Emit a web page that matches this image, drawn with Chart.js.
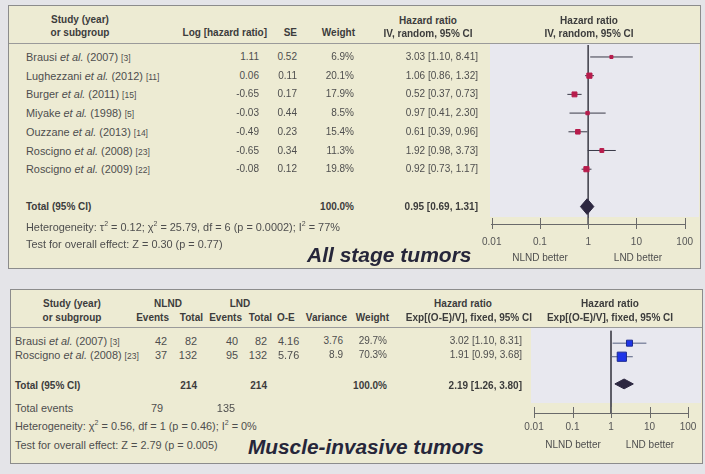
<!DOCTYPE html>
<html><head><meta charset="utf-8">
<script src="https://cdn.jsdelivr.net/npm/chart.js@4.4.1/dist/chart.umd.min.js"></script>
<style>
html,body{margin:0;padding:0;}
body{width:705px;height:474px;background:#e4e4e8;position:relative;overflow:hidden;font-family:"Liberation Sans",Arial,sans-serif;}
.box{position:absolute;background:#edebd3;border:1.5px solid #8c8c8c;box-sizing:border-box;}
.plotbg{position:absolute;background:#e8e8ef;}
.hline{position:absolute;height:0;border-top:1.5px solid #9a9a9a;}
.t{position:absolute;white-space:nowrap;font-size:10px;line-height:14px;color:#4e4e4e;}
.w{font-size:10.9px;}
.b{font-weight:bold;color:#3c3c3c;}
.t small{font-size:8.5px;}
.big{position:absolute;white-space:nowrap;font-weight:bold;font-style:italic;color:#26263a;line-height:26px;}
canvas{position:absolute;}
</style></head>
<body>
<div class="box" style="left:8px;top:5px;width:693px;height:264px;"></div>
<div class="plotbg" style="left:490px;top:44px;width:209px;height:173px;"></div>
<div class="hline" style="left:9px;top:43px;width:691px;"></div>
<div class="box" style="left:10px;top:289px;width:693px;height:175px;"></div>
<div class="plotbg" style="left:531px;top:328px;width:170px;height:75px;"></div>
<div class="hline" style="left:11px;top:327px;width:691px;"></div>
<canvas id="cA" width="235" height="214" style="left:470px;top:40px;"></canvas>
<canvas id="cB" width="191" height="120" style="left:514px;top:323px;"></canvas>
<script>
// ---------- Data: all stage tumors ----------
const studiesA = ['Brausi', 'Lughezzani', 'Burger', 'Miyake', 'Ouzzane', 'Roscigno', 'Roscigno'];
const yearsA = [2007, 2012, 2011, 1998, 2013, 2008, 2009];
const refsA = [3, 11, 15, 5, 14, 23, 22];
const logHrA = [1.11, 0.06, -0.65, -0.03, -0.49, -0.65, -0.08];
const seA = [0.52, 0.11, 0.17, 0.44, 0.23, 0.34, 0.12];
const weightA = [6.9, 20.1, 17.9, 8.5, 15.4, 11.3, 19.8];
const hrA = [3.03, 1.06, 0.52, 0.97, 0.61, 1.92, 0.92];
const loA = [1.10, 0.86, 0.37, 0.41, 0.39, 0.98, 0.73];
const hiA = [8.41, 1.32, 0.73, 2.30, 0.96, 3.73, 1.17];
const totalA = [0.95, 0.69, 1.31];          // estimate, low, high
const totalWeightA = 100.0;
const heteroA = 'Heterogeneity: τ<sup style="font-size:7px;line-height:0">2</sup> = 0.12; χ<sup style="font-size:7px;line-height:0">2</sup> = 25.79, df = 6 (p = 0.0002); I<sup style="font-size:7px;line-height:0">2</sup> = 77%';
const testA = 'Test for overall effect: Z = 0.30 (p = 0.77)';

// ---------- Data: muscle-invasive tumors ----------
const studiesB = ['Brausi', 'Roscigno'];
const yearsB = [2007, 2008];
const refsB = [3, 23];
const nlndEvents = [42, 37];
const nlndTotal = [82, 132];
const lndEvents = [40, 95];
const lndTotal = [82, 132];
const oeB = [4.16, 5.76];
const varianceB = [3.76, 8.9];
const weightB = [29.7, 70.3];
const hrB = [3.02, 1.91];
const loB = [1.10, 0.99];
const hiB = [8.31, 3.68];
const totalB = [2.19, 1.26, 3.80];
const totalsB = [214, 214];
const totalEventsB = [79, 135];
const totalWeightB = 100.0;
const heteroB = 'Heterogeneity: χ<sup style="font-size:7px;line-height:0">2</sup> = 0.56, df = 1 (p = 0.46); I<sup style="font-size:7px;line-height:0">2</sup> = 0%';
const testB = 'Test for overall effect: Z = 2.79 (p = 0.005)';

// ---------- Axis ----------
const tickValues = [0.01, 0.1, 1, 10, 100];
const tickLabels = ['0.01', '0.1', '1', '10', '100'];
const favourLabels = ['NLND better', 'LND better'];

// ---------- text helpers ----------
function txt(html, x, y, align, cls) {
  const d = document.createElement('div');
  d.className = 't ' + (cls || '');
  d.innerHTML = html;
  d.style.left = x + 'px';
  d.style.top = (y - 7) + 'px';
  if (align === 'right') d.style.transform = 'translateX(-100%)';
  else if (align === 'center') d.style.transform = 'translateX(-50%)';
  document.body.appendChild(d);
  return d;
}
function big(s, x, y, size) {
  const d = document.createElement('div');
  d.className = 'big';
  d.textContent = s;
  d.style.left = x + 'px';
  d.style.top = (y - 13) + 'px';
  d.style.fontSize = size + 'px';
  document.body.appendChild(d);
}
const f2 = v => v.toFixed(2);
const ci = (e, l, h) => `${f2(e)} [${f2(l)}, ${f2(h)}]`;
const nameHtml = (n, y, r) => `${n} <i>et al.</i> (${y}) <small>[${r}]</small>`;

// ----- top panel text -----
const rowA = i => 57 + 18.7 * i;
txt('Study (year)', 80, 20, 'center', 'b');
txt('or subgroup', 80, 33, 'center', 'b');
txt('Log [hazard ratio]', 267, 33, 'right', 'b');
txt('SE', 297, 33, 'right', 'b');
txt('Weight', 355, 33, 'right', 'b');
txt('Hazard ratio', 428, 21, 'center', 'b');
txt('IV, random, 95% CI', 428, 34, 'center', 'b');
txt('Hazard ratio', 589, 21, 'center', 'b');
txt('IV, random, 95% CI', 589, 34, 'center', 'b');
studiesA.forEach((s, i) => {
  const y = rowA(i);
  txt(nameHtml(s, yearsA[i], refsA[i]), 26, y, 'left', 'w');
  txt(f2(logHrA[i]), 259, y, 'right');
  txt(f2(seA[i]), 297, y, 'right');
  txt(weightA[i].toFixed(1) + '%', 354, y, 'right');
  txt(ci(hrA[i], loA[i], hiA[i]), 478, y, 'right');
});
txt('Total (95% CI)', 26, rowA(8), 'left', 'b');
txt(totalWeightA.toFixed(1) + '%', 354, rowA(8), 'right', 'b');
txt(ci(totalA[0], totalA[1], totalA[2]), 478, rowA(8), 'right', 'b');
txt(heteroA, 26, 227, 'left', 'w');
txt(testA, 26, 244, 'left', 'w');
big('All stage tumors', 307, 255, 21);
txt(favourLabels[0], 540, 258, 'center');
txt(favourLabels[1], 638, 258, 'center');

// ----- bottom panel text -----
const rowB = i => 341 + 14 * i;
txt('Study (year)', 72, 304, 'center', 'b');
txt('or subgroup', 72, 318, 'center', 'b');
txt('NLND', 168, 304, 'center', 'b');
txt('LND', 240, 304, 'center', 'b');
txt('Events', 169, 318, 'right', 'b');
txt('Total', 203, 318, 'right', 'b');
txt('Events', 242, 318, 'right', 'b');
txt('Total', 272, 318, 'right', 'b');
txt('O-E', 277, 318, 'left', 'b');
txt('Variance', 347, 318, 'right', 'b');
txt('Weight', 389, 318, 'right', 'b');
txt('Hazard ratio', 463, 304, 'center', 'b');
txt('Exp[(O-E)/V], fixed, 95% CI', 532, 318, 'right', 'b');
txt('Hazard ratio', 610, 304, 'center', 'b');
txt('Exp[(O-E)/V], fixed, 95% CI', 610, 318, 'center', 'b');
studiesB.forEach((s, i) => {
  const y = rowB(i);
  txt(nameHtml(s, yearsB[i], refsB[i]), 15, y, 'left', 'w');
  txt(String(nlndEvents[i]), 167, y, 'right', 'w');
  txt(String(nlndTotal[i]), 197, y, 'right', 'w');
  txt(String(lndEvents[i]), 238, y, 'right', 'w');
  txt(String(lndTotal[i]), 267, y, 'right', 'w');
  txt(f2(oeB[i]), 278, y, 'left', 'w');
  txt(String(varianceB[i]), 343, y, 'right');
  txt(weightB[i].toFixed(1) + '%', 387, y, 'right');
  txt(ci(hrB[i], loB[i], hiB[i]), 522, y, 'right');
});
txt('Total (95% CI)', 15, 386, 'left', 'b');
txt(String(totalsB[0]), 197, 386, 'right', 'b');
txt(String(totalsB[1]), 267, 386, 'right', 'b');
txt(totalWeightB.toFixed(1) + '%', 387, 386, 'right', 'b');
txt(ci(totalB[0], totalB[1], totalB[2]), 522, 386, 'right', 'b');
txt('Total events', 15, 408, 'left', 'w');
txt(String(totalEventsB[0]), 163, 408, 'right', 'w');
txt(String(totalEventsB[1]), 235, 408, 'right', 'w');
txt(heteroB, 15, 426, 'left', 'w');
txt(testB, 15, 445, 'left', 'w');
big('Muscle-invasive tumors', 248, 447, 20.8);
txt(favourLabels[0], 573, 445, 'center');
txt(favourLabels[1], 650, 445, 'center');

// ---------- charts ----------
const FONT = '"Liberation Sans", Arial, sans-serif';
const tickPlugin = {
  id: 'crossTicks',
  afterDraw(chart) {
    const s = chart.scales.x, ctx = chart.ctx, yb = chart.chartArea.bottom;
    ctx.save();
    ctx.strokeStyle = '#6a6a6a';
    ctx.lineWidth = 1;
    s.ticks.forEach(t => {
      const px = Math.round(s.getPixelForValue(t.value)) + 0.5;
      ctx.beginPath();
      ctx.moveTo(px, yb - 6);
      ctx.lineTo(px, yb + 5);
      ctx.stroke();
    });
    ctx.restore();
  }
};

function forest(canvasId, cfg) {
  const { est, lo, hi, weights, total, yMin, yMax, totalRow, sqColor, sqBorder, ciColor, sizeK, diamondH, padR, labelPad } = cfg;
  const datasets = [];
  datasets.push({
    type: 'scatter',
    data: est.map((v, i) => ({ x: v, y: i })),
    pointStyle: 'rect',
    pointRadius: weights.map(w => sizeK * Math.sqrt(w) / Math.SQRT1_2),
    backgroundColor: sqColor,
    borderColor: sqBorder,
    borderWidth: 1
  });
  datasets.push({
    type: 'line',
    data: [
      { x: total[1], y: totalRow }, { x: total[0], y: totalRow - diamondH },
      { x: total[2], y: totalRow }, { x: total[0], y: totalRow + diamondH },
      { x: total[1], y: totalRow }
    ],
    borderColor: '#2c2740', backgroundColor: '#2c2740', borderWidth: 1,
    fill: 'shape', pointRadius: 0, tension: 0
  });
  est.forEach((v, i) => {
    datasets.push({
      type: 'line',
      data: [{ x: lo[i], y: i }, { x: hi[i], y: i }],
      borderColor: ciColor, borderWidth: 1, pointRadius: 0, fill: false
    });
  });
  datasets.push({
    type: 'line',
    data: [{ x: 1, y: yMin }, { x: 1, y: yMax }],
    borderColor: '#4a4a55', borderWidth: 1, pointRadius: 0, fill: false
  });
  return new Chart(document.getElementById(canvasId), {
    type: 'scatter',
    data: { datasets },
    options: {
      responsive: false, animation: false, events: [],
      layout: { padding: { left: 20, right: padR, top: 5, bottom: 0 } },
      plugins: { legend: { display: false }, tooltip: { enabled: false } },
      scales: {
        x: {
          type: 'logarithmic', min: 0.01, max: 100,
          afterBuildTicks: s => { s.ticks = tickValues.map(v => ({ value: v })); },
          afterFit: s => { s.height = 30; },
          ticks: {
            callback: (v) => tickLabels[tickValues.indexOf(v)] ?? '',
            font: { size: 10, family: FONT }, color: '#555',
            padding: labelPad, maxRotation: 0, autoSkip: false
          },
          grid: { display: false, drawTicks: false },
          border: { display: true, color: '#6a6a6a', width: 1 }
        },
        y: { type: 'linear', min: yMin, max: yMax, reverse: true, display: false }
      }
    },
    plugins: [tickPlugin]
  });
}

forest('cA', {
  est: hrA, lo: loA, hi: hiA, weights: weightA, total: totalA,
  yMin: -0.64, yMax: 8.93, totalRow: 8,
  sqColor: '#b71c4c', sqBorder: '#b71c4c', ciColor: '#3a3a48',
  sizeK: 0.58, diamondH: 0.42, padR: 16, labelPad: 12
});
forest('cB', {
  est: hrB, lo: loB, hi: hiB, weights: weightB, total: totalB,
  yMin: -0.93, yMax: 5.14, totalRow: 3,
  sqColor: '#1f35e8', sqBorder: '#1c2a90', ciColor: '#556080',
  sizeK: 0.55, diamondH: 0.36, padR: 17, labelPad: 8
});
</script>
</body></html>
